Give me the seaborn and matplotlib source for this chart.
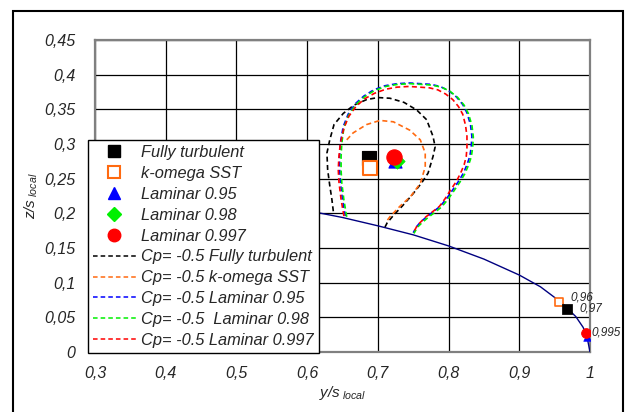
import matplotlib
matplotlib.use("Agg")
import matplotlib.pyplot as plt
from matplotlib.lines import Line2D
from matplotlib.patches import Rectangle
import seaborn as sns
import pandas as pd

# ---------------- data ----------------
x_ticks = [0.3, 0.4, 0.5, 0.6, 0.7, 0.8, 0.9, 1.0]
x_tick_labels = ["0,3", "0,4", "0,5", "0,6", "0,7", "0,8", "0,9", "1"]
y_ticks = [0, 0.05, 0.1, 0.15, 0.2, 0.25, 0.3, 0.35, 0.4, 0.45]
y_tick_labels = ["0", "0,05", "0,1", "0,15", "0,2", "0,25", "0,3", "0,35", "0,4", "0,45"]

# wing leading edge (solid navy)
wing_y = [0.30, 0.40, 0.50, 0.60, 0.65, 0.70, 0.75, 0.80, 0.85, 0.90, 0.93, 0.96, 0.98, 0.99, 0.995, 1.0]
wing_z = [0.243, 0.234, 0.221, 0.204, 0.194, 0.182, 0.169, 0.153, 0.134, 0.111, 0.094, 0.071, 0.051, 0.036, 0.026, 0.0]

# Cp = -0.5 contours
ft_y = [0.637, 0.635, 0.632, 0.629, 0.628, 0.632, 0.638, 0.651, 0.666, 0.684, 0.700, 0.717, 0.737, 0.755,
        0.769, 0.778, 0.781, 0.778, 0.771, 0.762, 0.748, 0.735, 0.722, 0.713, 0.710]
ft_z = [0.203, 0.220, 0.240, 0.263, 0.287, 0.306, 0.328, 0.344, 0.356, 0.364, 0.367, 0.366, 0.360, 0.349,
        0.335, 0.311, 0.296, 0.282, 0.258, 0.244, 0.226, 0.211, 0.197, 0.186, 0.180]

kw_y = [0.656, 0.665, 0.684, 0.703, 0.722, 0.745, 0.760, 0.767, 0.767, 0.760, 0.746, 0.731, 0.717, 0.712]
kw_z = [0.306, 0.316, 0.328, 0.334, 0.332, 0.320, 0.306, 0.287, 0.267, 0.243, 0.224, 0.210, 0.195, 0.188]

l95_y = [0.654, 0.650, 0.647, 0.646, 0.646, 0.647, 0.651, 0.658, 0.668, 0.680, 0.694, 0.710, 0.727, 0.745,
         0.760, 0.775, 0.788, 0.800, 0.811, 0.820, 0.826, 0.831, 0.833, 0.832, 0.830, 0.826, 0.821, 0.814,
         0.806, 0.797, 0.788, 0.778, 0.769, 0.760, 0.755, 0.750]
l95_z = [0.196, 0.220, 0.245, 0.263, 0.283, 0.302, 0.325, 0.343, 0.358, 0.369, 0.378, 0.384, 0.387, 0.388,
         0.387, 0.386, 0.383, 0.377, 0.368, 0.357, 0.345, 0.328, 0.311, 0.295, 0.282, 0.270, 0.258, 0.246,
         0.234, 0.221, 0.210, 0.202, 0.195, 0.187, 0.181, 0.172]

l98_y = [0.656, 0.652, 0.649, 0.648, 0.648, 0.649, 0.652, 0.659, 0.669, 0.681, 0.695, 0.711, 0.728, 0.746,
         0.761, 0.776, 0.790, 0.802, 0.813, 0.822, 0.828, 0.833, 0.835, 0.834, 0.832, 0.828, 0.823, 0.816,
         0.808, 0.799, 0.790, 0.780, 0.771, 0.762, 0.756, 0.751]
l98_z = [0.195, 0.219, 0.244, 0.262, 0.282, 0.301, 0.324, 0.342, 0.357, 0.368, 0.377, 0.383, 0.386, 0.387,
         0.386, 0.385, 0.382, 0.376, 0.367, 0.356, 0.344, 0.327, 0.310, 0.294, 0.281, 0.269, 0.257, 0.245,
         0.233, 0.220, 0.209, 0.201, 0.194, 0.186, 0.180, 0.171]

l997_y = [0.652, 0.648, 0.645, 0.644, 0.645, 0.647, 0.652, 0.659, 0.669, 0.681, 0.695, 0.711, 0.727, 0.744,
          0.759, 0.773, 0.785, 0.796, 0.806, 0.814, 0.820, 0.824, 0.826, 0.826, 0.825, 0.822, 0.817, 0.811,
          0.803, 0.795, 0.787, 0.777, 0.768, 0.760, 0.755, 0.750]
l997_z = [0.196, 0.220, 0.245, 0.263, 0.283, 0.301, 0.323, 0.340, 0.354, 0.365, 0.373, 0.379, 0.382, 0.383,
          0.382, 0.381, 0.378, 0.372, 0.364, 0.354, 0.343, 0.327, 0.311, 0.295, 0.282, 0.270, 0.258, 0.246,
          0.234, 0.221, 0.210, 0.202, 0.195, 0.187, 0.181, 0.172]

# vortex core positions
core_labels = ["Fully turbulent", "k-omega SST", "Laminar 0.95", "Laminar 0.98", "Laminar 0.997"]
core_y = [0.688, 0.689, 0.724, 0.727, 0.723]
core_z = [0.280, 0.265, 0.275, 0.276, 0.281]

# transition points on the leading edge
tr_y = [0.956, 0.968, 0.995, 0.996]
tr_z = [0.072, 0.062, 0.027, 0.022]
tr_text = ["0,96", "0,97", "0,995"]

# ---------------- style ----------------
sns.set_style("white")
plt.rcParams["font.family"] = ["Liberation Sans", "DejaVu Sans"]
plt.rcParams["mathtext.fontset"] = "custom"
plt.rcParams["mathtext.it"] = "Liberation Sans:italic"
plt.rcParams["mathtext.rm"] = "Liberation Sans:italic"

C_BLACK = "#000000"
C_ORANGE = "#FF6A10"
C_BLUE = "#0000FF"
C_GREEN = "#00F000"
C_RED = "#FF0000"
C_NAVY = "#000080"

fig = plt.figure(figsize=(6.28, 4.12), dpi=100)
ax = fig.add_axes([95 / 628, 1 - 352 / 412, 495 / 628, 312 / 412])

dash = (0, (3.0, 2.0))
lw_c = 1.2
sns.lineplot(x=wing_y, y=wing_z, sort=False, estimator=None, color=C_NAVY, lw=1.0, ax=ax, zorder=3)
sns.lineplot(x=ft_y, y=ft_z, sort=False, estimator=None, color=C_BLACK, lw=lw_c, linestyle=dash, ax=ax, zorder=3)
sns.lineplot(x=kw_y, y=kw_z, sort=False, estimator=None, color=C_ORANGE, lw=lw_c, linestyle=dash, ax=ax, zorder=3)
sns.lineplot(x=l95_y, y=l95_z, sort=False, estimator=None, color=C_BLUE, lw=lw_c, linestyle=dash, ax=ax, zorder=3)
sns.lineplot(x=l98_y, y=l98_z, sort=False, estimator=None, color=C_GREEN, lw=lw_c, linestyle=dash, ax=ax, zorder=3)
sns.lineplot(x=l997_y, y=l997_z, sort=False, estimator=None, color=C_RED, lw=lw_c, linestyle=dash, ax=ax, zorder=3)

# vortex cores
sns.scatterplot(x=[core_y[0]], y=[core_z[0]], marker="s", s=110, color=C_BLACK, edgecolor=C_BLACK, ax=ax, zorder=5)
sns.scatterplot(x=[core_y[1]], y=[core_z[1]], marker="s", s=100, color="white", edgecolor=C_ORANGE, linewidth=1.5, ax=ax, zorder=5)
sns.scatterplot(x=[core_y[2]], y=[core_z[2]], marker="^", s=90, color=C_BLUE, edgecolor=C_BLUE, ax=ax, zorder=5)
sns.scatterplot(x=[core_y[3]], y=[core_z[3]], marker="D", s=60, color=C_GREEN, edgecolor=C_GREEN, ax=ax, zorder=5)
sns.scatterplot(x=[core_y[4]], y=[core_z[4]], marker="o", s=120, color=C_RED, edgecolor=C_RED, ax=ax, zorder=6)

# transition points
sns.scatterplot(x=[tr_y[0]], y=[tr_z[0]], marker="s", s=40, color="white", edgecolor=C_ORANGE, linewidth=1.2, ax=ax, zorder=5)
sns.scatterplot(x=[tr_y[1]], y=[tr_z[1]], marker="s", s=45, color=C_BLACK, edgecolor=C_BLACK, ax=ax, zorder=5)
sns.scatterplot(x=[tr_y[3]], y=[tr_z[3]], marker="^", s=30, color=C_BLUE, edgecolor=C_BLUE, ax=ax, zorder=5)
sns.scatterplot(x=[tr_y[2]], y=[tr_z[2]], marker="o", s=50, color=C_RED, edgecolor=C_RED, ax=ax, zorder=6)

ax.text(tr_y[0] + 0.017, tr_z[0] + 0.006, tr_text[0], fontsize=8.5, style="italic", va="center", ha="left", clip_on=False)
ax.text(tr_y[1] + 0.017, tr_z[1] + 0.001, tr_text[1], fontsize=8.5, style="italic", va="center", ha="left", clip_on=False)
ax.text(tr_y[2] + 0.007, tr_z[2] + 0.001, tr_text[2], fontsize=8.5, style="italic", va="center", ha="left", clip_on=False)

# axes
ax.set_xlim(0.3, 1.0)
ax.set_ylim(0, 0.45)
ax.set_xticks(x_ticks)
ax.set_xticklabels(x_tick_labels, fontsize=11.5, style="italic")
ax.set_yticks(y_ticks)
ax.set_yticklabels(y_tick_labels, fontsize=11.5, style="italic")
ax.grid(True, color="black", lw=0.9)
ax.set_axisbelow(True)
for sp in ax.spines.values():
    sp.set_color("#808080")
    sp.set_linewidth(1.6)
ax.tick_params(axis="both", direction="out", length=4, width=1, color="#808080")
ax.tick_params(axis="y", pad=10)
ax.tick_params(axis="x", pad=6)

ax.set_xlabel(r"$y/s_{\ local}$", fontsize=11, labelpad=2)
ax.set_ylabel(r"$z/s_{\ local}$", fontsize=11, labelpad=3)

# legend
handles = [
    Line2D([], [], marker="s", color=C_BLACK, ls="None", markersize=8),
    Line2D([], [], marker="s", color=C_ORANGE, mfc="white", mew=1.5, ls="None", markersize=8),
    Line2D([], [], marker="^", color=C_BLUE, ls="None", markersize=9),
    Line2D([], [], marker="D", color=C_GREEN, ls="None", markersize=7),
    Line2D([], [], marker="o", color=C_RED, ls="None", markersize=9),
    Line2D([], [], color=C_BLACK, lw=1.1, ls=dash),
    Line2D([], [], color=C_ORANGE, lw=1.1, ls=dash),
    Line2D([], [], color=C_BLUE, lw=1.1, ls=dash),
    Line2D([], [], color=C_GREEN, lw=1.1, ls=dash),
    Line2D([], [], color=C_RED, lw=1.1, ls=dash),
]
labels = core_labels + [
    "Cp= -0.5 Fully turbulent",
    "Cp= -0.5 k-omega SST",
    "Cp= -0.5 Laminar 0.95",
    "Cp= -0.5  Laminar 0.98",
    "Cp= -0.5 Laminar 0.997",
]
leg = ax.legend(handles, labels, loc="upper left", bbox_to_anchor=(88 / 628, 1 - 140 / 412),
                bbox_transform=fig.transFigure, borderaxespad=0, frameon=True, fancybox=False,
                framealpha=1, edgecolor="black", prop={"style": "italic", "size": 11.8},
                handlelength=2.6, handletextpad=0.35, labelspacing=0.36, borderpad=0.3)
leg.get_frame().set_linewidth(1.0)
leg.set_zorder(10)

# outer figure border
fig.patches.append(Rectangle((13 / 628, -0.02), 610 / 628, 1 - 11 / 412 + 0.02, transform=fig.transFigure,
                             fill=False, edgecolor="black", lw=1.5))

fig.savefig("out.png", dpi=100)
